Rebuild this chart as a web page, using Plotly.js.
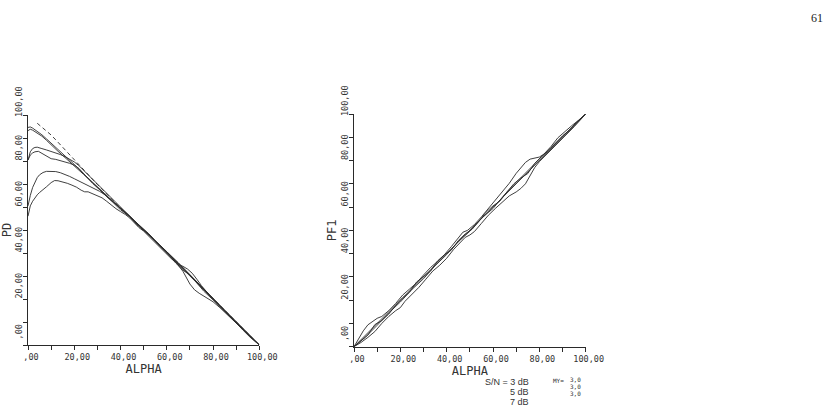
<!DOCTYPE html>
<html>
<head>
<meta charset="utf-8">
<script src="https://cdn.plot.ly/plotly-3.0.1.min.js"></script>
<style>html,body{margin:0;padding:0;background:#fff;}#chart{width:834px;height:412px;}</style>
</head>
<body>
<div id="chart"></div>
<script>
// ---- tick labels ----
const tickVals = [0,10,20,30,40,50,60,70,80,90,100];
const tickText = [',00','','20,00','','40,00','','60,00','','80,00','','100,00'];

// ---- left panel: PD vs ALPHA ----
const pdDashA = [4,6,8,10,12,14,16,18,20,25,30,35,40,50,60,70,80,90,100];
const pdDashY = [96.4,94.8,93.1,91.3,89.2,87.1,85,82.8,80.6,75.2,69.8,64.6,59.6,50,40.5,30.3,20.2,10,0];

const pdT1A = [0,1,2,4,6,8,10,13,16,20,25,30,35,40,45,50,55,60,65,70,75,80,85,90,95,100];
const pdT1Y = [94.6,94.8,94.3,93,91.4,89.6,87.8,85,82,78.5,73.5,68.8,64,59.5,55,50.2,45.5,40.8,35.8,30.6,25.3,20.2,15,10,5,0];

const pdT2A = [0,1,2,4,6,8,10,13,16,20,24,28,32,36,40,44,47,50,53,56,60,64,67,70,73,76,80,84,88,92,96,100];
const pdT2Y = [93.2,93.8,93.4,92.2,90.8,89,87,84.2,81.5,78,74.2,70.5,66.5,62.5,58.8,55.8,52.3,49.8,47.5,44,40,35.5,32.5,30.5,27,23.4,19.6,15.5,11.6,7.8,3.6,0];

const pdM1A = [0,0.5,1,2,3,4,5,6,8,10,12,14,16,18,20,22,25,30,35,40,45,50,55,60,65,70,75,80,85,90,95,100];
const pdM1Y = [80.4,82.5,84,85.4,85.9,86,85.8,85.4,84.8,84.2,83.6,82.8,81.9,80.8,79.6,78,75,70,64.8,59.8,54.8,49.8,45,40,35,30.2,25.2,20.2,15,10,5,0];

const pdM2A = [0,0.5,1,2,3,4.5,6,8,10,12,15,18,20,22,25,28,31,34,37,40,43,46,49,52,55,58,61,64,67,70,72,74,76,78,80,83,86,90,94,97,100];
const pdM2Y = [80.4,81.8,82.6,83.5,84,84.2,83.4,82,81,80.7,80,79,78.2,76.8,73.5,70.2,67.5,64.5,62,59.5,57,54,51.2,48.6,45.3,42.5,39.4,36,32,26.5,24,22.5,21.3,20,18.8,16.2,13.4,9.6,5.8,3,0];

const pdL1A = [0,0.5,1,2,3,4,5,6.5,8,10,12,14,16,18,20,22,25,28,31,34,37,40,45,50,55,60,65,70,75,80,85,90,95,100];
const pdL1Y = [60.5,63,65,68.5,71,72.8,74,75,75.5,75.6,75.4,74.9,74.2,73.3,72.3,71.3,69.8,68.2,66.8,64.8,62,59.5,55,50.3,45.5,40.6,35.5,30.4,25.3,20.2,15.1,10,5,0];

const pdL2A = [0,0.5,1,2,3,4,5,6.5,8,10,11.5,13,15,17,19,21,23,24.5,26,28,30,32,34,36,38,40,42,44,46,48,50,53,56,59,62,65,67,69,71,73,75,78,81,84,87,90,93,96,98,100];
const pdL2Y = [56,58.5,60.5,62.5,64,65.3,66.3,67.4,68.8,70.6,71.5,71.4,71,70.3,69.5,68.6,67.3,66.6,66.6,65.8,65,64,62.5,60.8,59.3,58,56.8,55.2,53,51,49.5,46.5,43.5,40.2,37.5,35,34.2,33,31.2,28.6,25.8,22.2,19,15.6,12.4,9.4,6.4,3.4,1.6,0];

// ---- right panel: PF1 vs ALPHA ----
const pf0A = [0,100];
const pf0Y = [0,100];

const pf1A = [0,2,4,6,8,10,12,15,18,21,24,27,30,33,36,39,42,45,47,49,52,55,58,61,64,67,70,72,74,76,78,80,82,85,88,91,94,97,100];
const pf1Y = [0,3.5,6.8,9.4,11,12.2,13,15.5,18.6,22.2,24.8,27.4,30.8,34,36.6,39.5,43,47,49.2,50,52.5,55.8,59.4,62.8,66.2,70.2,74.5,77,79.2,80.6,81,81.5,82.8,86,89.8,92.6,95,97.4,100];

const pf2A = [0,3,6,9,12,15,18,20,22,25,28,31,34,37,40,43,46,48,50,52,55,58,61,64,67,70,72,74,76,78,80,83,86,89,92,95,100];
const pf2Y = [0,1.8,4,6.5,10,13,15.5,16.8,19.5,22.5,25.5,29,32.5,35,38,41.8,45.2,47,48,49.5,53,56.5,59.4,62,64.8,66.5,68,70,73.5,77,79.5,82.5,85.5,88.6,91.5,94.5,100];

const pf3A = [0,3,6,9,12,15,18,21,24,27,30,33,36,39,42,45,48,51,54,57,60,63,66,69,72,75,78,81,84,87,90,93,96,100];
const pf3Y = [0,2.5,5,9.5,11.2,14,17.8,21,23.5,27.8,30,32.5,36.8,39.5,41.5,45.6,48.5,50.5,54,57.8,60.5,62.6,66.5,70,72.5,74.4,78.8,81.8,84.2,87.5,90.6,93,96.4,100];

const pf4A = [0,5,10,15,20,25,30,35,40,45,50,55,60,65,70,75,80,85,90,95,100];
const pf4Y = [0,4.2,9.2,14.5,19.2,24.6,29.2,34.8,39.6,45.2,49.6,55.2,59.4,65.4,70.6,75.8,80.6,85.6,90.4,95.4,100];

// ---- legend texts ----
const snPrefix = 'S/N = ';
const snLabels = ['3 dB','5 dB','7 dB'];
const myPrefix = 'MY=';
const myLabels = ['3,0','3,0','3,0'];
const pageNumber = '61';

const LC = '#2a2a2a';
function tr(x, y, xa, ya, dash) {
  return {x: x, y: y, xaxis: xa, yaxis: ya, type: 'scatter', mode: 'lines',
          line: {color: LC, width: 0.9, dash: dash || 'solid'}, hoverinfo: 'skip'};
}
const data = [
  tr(pdDashA, pdDashY, 'x', 'y', '4px,3px'),
  tr(pdT1A, pdT1Y, 'x', 'y'), tr(pdT2A, pdT2Y, 'x', 'y'),
  tr(pdM1A, pdM1Y, 'x', 'y'), tr(pdM2A, pdM2Y, 'x', 'y'),
  tr(pdL1A, pdL1Y, 'x', 'y'), tr(pdL2A, pdL2Y, 'x', 'y'),
  tr(pf0A, pf0Y, 'x2', 'y2'), tr(pf1A, pf1Y, 'x2', 'y2'),
  tr(pf2A, pf2Y, 'x2', 'y2'), tr(pf3A, pf3Y, 'x2', 'y2'),
  tr(pf4A, pf4Y, 'x2', 'y2')
];

const tickFont = {family: 'DejaVu Sans Mono', size: 8.5, color: '#333'};
function xax(domain, anchor) {
  return {domain: domain, anchor: anchor, range: [0, 100], showgrid: false, zeroline: false,
    showline: true, linecolor: LC, linewidth: 1, ticks: 'outside', ticklen: 4, tickwidth: 1,
    tickcolor: LC, tickmode: 'array', tickvals: tickVals, ticktext: tickText,
    tickfont: tickFont, ticklabelshift: 3,
    title: {text: 'ALPHA', font: {family: 'DejaVu Sans Mono', size: 12, color: '#333'}, standoff: 0}};
}
function yax(domain, anchor, t) {
  return {domain: domain, anchor: anchor, range: [0, 100], showgrid: false, zeroline: false,
    showline: true, linecolor: LC, linewidth: 1, ticks: 'outside', ticklen: 4, tickwidth: 1,
    tickcolor: LC, tickmode: 'array', tickvals: tickVals, ticktext: tickText,
    tickfont: tickFont, tickangle: -90, ticklabelshift: -12, ticklabelstandoff: -2,
    title: {text: t, font: {family: 'DejaVu Sans Mono', size: 12, color: '#333'}, standoff: 0}};
}
const W = 834, H = 412;
const px = v => v / W, py = v => 1 - v / H;
const annFont = {family: 'Liberation Sans', size: 9, color: '#333'};
const smallFont = {family: 'DejaVu Sans Mono', size: 6, color: '#333'};
function ann(text, x, y, xanchor, font) {
  return {text: text, x: px(x), y: py(y), xref: 'paper', yref: 'paper', xanchor: xanchor,
          yanchor: 'middle', showarrow: false, font: font};
}
const anns = [
  ann(pageNumber, 817, 18, 'center', {family: 'Liberation Serif', size: 12, color: '#222'}),
  ann(snPrefix + snLabels[0], 531, 382, 'right', annFont),
  ann(snLabels[1], 531, 392, 'right', annFont),
  ann(snLabels[2], 531, 402, 'right', annFont),
  ann(myPrefix, 566, 380, 'right', smallFont),
  ann(myLabels[0], 568, 379, 'left', smallFont),
  ann(myLabels[1], 568, 386, 'left', smallFont),
  ann(myLabels[2], 568, 393, 'left', smallFont)
];
const layout = {
  width: W, height: H, margin: {l: 0, r: 0, t: 0, b: 0}, showlegend: false,
  paper_bgcolor: '#fff', plot_bgcolor: '#fff',
  xaxis: xax([px(28), px(259.3)], 'y'),
  yaxis: yax([1 - 345 / H, 1 - 115 / H], 'x', 'PD'),
  xaxis2: xax([px(354), px(585.7)], 'y2'),
  yaxis2: yax([1 - 346.7 / H, 1 - 114 / H], 'x2', 'PF1'),
  annotations: anns
};
Plotly.newPlot('chart', data, layout, {staticPlot: true, displayModeBar: false});
</script>
</body>
</html>
